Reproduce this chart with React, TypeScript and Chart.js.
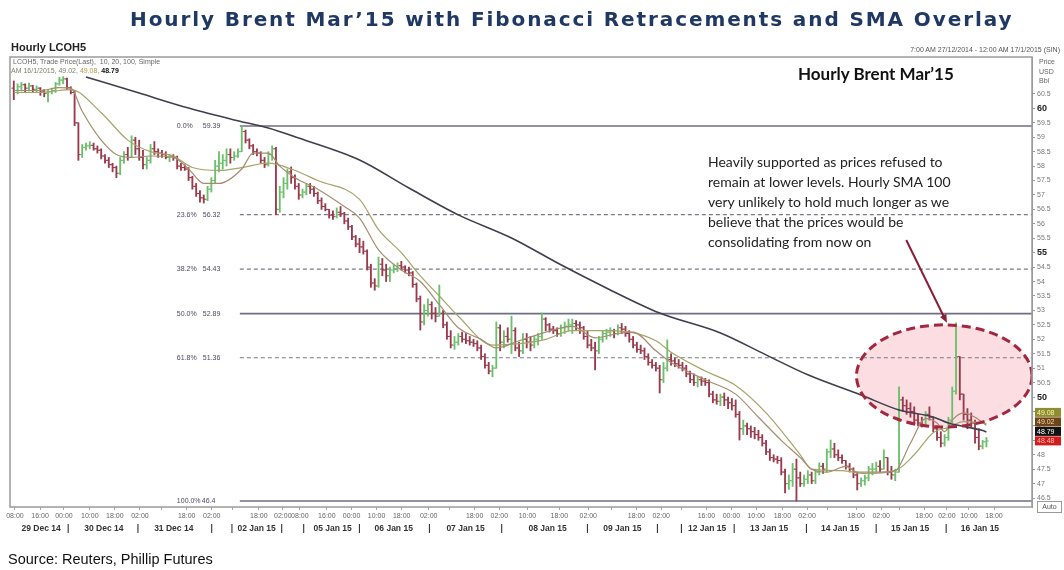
import React, { useEffect, useRef } from 'react';
import { Chart, registerables } from 'chart.js';

Chart.register(...registerables);

// ---------- DATA (hourly bars, index = bar slot) ----------
const FIRST_OPEN = 60.7;
const BAR_HIGH = [
  60.95, 60.85, 60.9, 60.85, 60.88, 60.8, 60.78, 60.72, 60.65, 60.65,
  60.7, 60.9, 61.08, 61.1, 61.05, 60.75, 60.6, 59.5, 58.75, 58.8,
  58.85, 58.8, 58.7, 58.6, 58.4, 58.3, 58.1, 58.0, 58.3, 58.5,
  58.65, 59.05, 59.0, 58.9, 58.55, 58.3, 58.75, 58.85, 58.6, 58.55,
  58.5, 58.4, 58.4, 58.35, 58.1, 58.05, 57.95, 57.65, 57.4, 57.15,
  57.0, 57.3, 57.6, 58.2, 58.5, 58.4, 58.6, 58.6, 58.5, 58.6,
  59.39, 59.25, 58.95, 58.75, 58.6, 58.5, 58.3, 58.5, 58.7, 58.65,
  57.3, 57.6, 57.9, 57.97, 57.7, 57.4, 57.2, 57.4, 57.4, 57.3,
  57.1, 56.9, 56.7, 56.5, 56.45, 56.55, 56.6, 56.4, 56.2, 55.95,
  55.6, 55.5, 55.4, 55.1, 54.6, 54.1, 54.85, 54.8, 54.6, 54.5,
  54.6, 54.65, 54.7, 54.55, 54.5, 54.35, 53.95, 53.5, 53.2, 53.4,
  53.3, 53.1, 53.88, 53.0, 52.6, 52.3, 52.1, 52.2, 52.25, 52.2,
  52.1, 52.0, 51.95, 51.8, 51.5, 51.2, 51.1, 52.6, 52.5, 52.3,
  52.4, 52.8, 52.4, 51.9, 52.2, 52.2, 52.1, 52.1, 52.2, 52.91,
  52.75, 52.55, 52.45, 52.4, 52.5, 52.6, 52.7, 52.7, 52.65, 52.6,
  52.45, 52.3, 52.0, 51.9, 52.1, 52.3, 52.35, 52.4, 52.35, 52.5,
  52.55, 52.45, 52.3, 52.1, 51.9, 51.8, 51.7, 51.5, 51.3, 51.2,
  51.1, 51.2, 51.98, 51.5, 51.35, 51.3, 51.2, 51.1, 50.9, 50.8,
  50.7, 50.7, 50.65, 50.6, 50.2, 50.1, 50.1, 50.14, 50.0, 49.95,
  49.9, 49.5, 49.2, 49.1, 49.0, 48.95, 48.85, 48.7, 48.5, 48.2,
  48.0, 47.95, 47.9, 47.5, 47.3, 47.7, 47.85, 47.4, 47.3, 47.45,
  47.4, 47.5, 47.72, 47.7, 48.2, 48.51, 48.4, 48.17, 48.0, 47.8,
  47.7, 47.55, 47.4, 47.2, 47.3, 47.6, 47.7, 47.75, 47.8, 48.17,
  47.9, 47.6, 47.5, 50.35, 50.0, 49.9, 49.8, 49.66, 49.4, 49.3,
  49.5, 49.66, 49.3, 49.0, 48.8, 48.7, 49.3, 50.35, 52.57, 51.4,
  50.1, 49.6, 49.45, 49.2, 48.9, 48.5, 48.6,
];
const BAR_LOW = [
  60.3, 60.5, 60.6, 60.55, 60.6, 60.55, 60.55, 60.45, 60.4, 60.22,
  60.5, 60.55, 60.8, 60.85, 60.65, 60.5, 59.4, 58.2, 58.3, 58.55,
  58.6, 58.55, 58.45, 58.25, 58.1, 57.95, 57.8, 57.6, 57.7, 58.1,
  58.2, 58.3, 58.4, 58.2, 57.9, 57.9, 58.1, 58.4, 58.3, 58.3,
  58.25, 58.15, 58.2, 57.9, 57.85, 57.85, 57.5, 57.2, 56.95, 56.75,
  56.72, 56.8, 57.1, 57.4, 57.8, 57.9, 58.0, 58.1, 58.2, 58.3,
  58.5, 58.8, 58.6, 58.4, 58.35, 58.1, 57.95, 58.0, 58.2, 56.32,
  56.4, 56.9, 57.2, 57.4, 57.2, 56.85, 56.9, 57.0, 57.05, 56.95,
  56.7, 56.5, 56.45, 56.2, 56.15, 56.2, 56.25, 56.0, 55.8, 55.45,
  55.2, 55.0, 54.95, 54.4, 53.8, 53.7, 53.8, 54.2, 54.0, 54.0,
  54.3, 54.35, 54.4, 54.3, 54.2, 53.8, 53.3, 52.32, 52.5, 52.8,
  52.7, 52.6, 52.8, 52.4, 52.0, 51.7, 51.65, 51.8, 51.9, 51.85,
  51.8, 51.75, 51.6, 51.3, 51.0, 50.8, 50.7, 51.0, 51.6, 51.7,
  51.9, 51.5, 51.6, 51.4, 51.5, 51.7, 51.6, 51.7, 51.8, 52.0,
  52.3, 52.25, 52.2, 52.1, 52.1, 52.2, 52.3, 52.2, 52.3, 52.2,
  52.0, 51.7, 51.6, 50.94, 51.5, 51.9, 52.0, 52.1, 52.05, 52.15,
  52.2, 52.1, 51.9, 51.7, 51.55, 51.5, 51.3, 51.1, 51.0, 50.9,
  50.14, 50.5, 50.9, 51.1, 51.05, 51.0, 50.9, 50.7, 50.5, 50.4,
  50.35, 50.4, 50.4, 50.0, 49.8, 49.75, 49.7, 49.7, 49.6, 49.55,
  49.3, 48.51, 48.7, 48.7, 48.6, 48.55, 48.5, 48.3, 48.0, 47.8,
  47.75, 47.7, 47.3, 46.68, 46.8, 46.9, 46.4, 46.9, 46.9, 47.0,
  47.0, 47.0, 47.3, 47.35, 47.4, 47.9, 47.9, 47.8, 47.7, 47.5,
  47.4, 47.2, 46.78, 46.9, 46.95, 47.1, 47.3, 47.4, 47.4, 47.5,
  47.3, 47.15, 47.1, 47.4, 49.5, 49.4, 49.3, 49.1, 49.0, 48.96,
  49.0, 49.2, 48.8, 48.5, 48.27, 48.3, 48.5, 49.1, 50.1, 49.9,
  49.2, 48.9, 48.96, 48.4, 48.17, 48.2, 48.27,
];
const BAR_CLOSE = [
  60.55, 60.75, 60.82, 60.7, 60.78, 60.66, 60.7, 60.6, 60.52, 60.58,
  60.62, 60.85, 60.98, 61.02, 60.72, 60.55, 59.5, 58.4, 58.65, 58.7,
  58.72, 58.6, 58.55, 58.35, 58.2, 58.05, 57.95, 57.75, 58.2, 58.4,
  58.3, 58.9, 58.6, 58.3, 58.05, 58.2, 58.6, 58.5, 58.45, 58.4,
  58.3, 58.35, 58.3, 58.0, 57.95, 57.9, 57.6, 57.3, 57.05, 56.9,
  56.85, 57.2, 57.5, 58.0, 58.1, 58.2, 58.4, 58.3, 58.35, 58.5,
  59.2, 58.9, 58.7, 58.5, 58.45, 58.2, 58.05, 58.4, 58.6, 56.5,
  57.1, 57.4, 57.8, 57.6, 57.3, 57.0, 57.1, 57.3, 57.2, 57.05,
  56.8, 56.6, 56.5, 56.3, 56.25, 56.4, 56.35, 56.1, 55.9, 55.55,
  55.3, 55.2, 55.05, 54.5, 53.95, 53.85, 54.6, 54.4, 54.2, 54.4,
  54.45, 54.55, 54.5, 54.4, 54.3, 53.9, 53.4, 52.6, 53.0, 53.2,
  52.9, 52.8, 52.9, 52.5, 52.1, 51.8, 51.9, 52.1, 52.0, 51.95,
  51.9, 51.85, 51.7, 51.4, 51.1, 50.9, 51.0, 52.4, 51.9, 52.1,
  52.0, 52.3, 51.7, 51.6, 52.0, 51.9, 51.8, 52.0, 52.1, 52.7,
  52.5, 52.35, 52.3, 52.2, 52.4, 52.45, 52.5, 52.55, 52.5, 52.4,
  52.1, 51.8, 51.7, 51.6, 52.0, 52.2, 52.25, 52.3, 52.2, 52.4,
  52.35, 52.2, 52.0, 51.8, 51.65, 51.6, 51.4, 51.2, 51.1, 51.0,
  50.6, 51.0, 51.3, 51.25, 51.15, 51.1, 51.0, 50.8, 50.6, 50.5,
  50.6, 50.55, 50.5, 50.1, 49.9, 49.85, 50.0, 49.9, 49.8, 49.7,
  49.4, 48.9, 49.0, 48.9, 48.8, 48.7, 48.6, 48.4, 48.1, 47.9,
  47.85, 47.8, 47.4, 47.0, 47.1, 47.5, 47.2, 47.0, 47.15, 47.3,
  47.1, 47.4, 47.6, 47.5, 48.1, 48.2, 48.0, 47.9, 47.8, 47.6,
  47.5, 47.3, 47.0, 47.1, 47.2, 47.5, 47.5, 47.6, 47.5, 47.9,
  47.4, 47.3, 47.4, 49.9, 49.7, 49.6, 49.5, 49.2, 49.1, 49.05,
  49.4, 49.3, 48.9, 48.6, 48.4, 48.6, 49.2, 50.2, 51.4, 50.1,
  49.4, 49.2, 49.1, 48.6, 48.3, 48.45, 48.48,
];

// Moving averages: [bar slot, price]
const SMA10: [number, number][] = [
  [0, 60.62], [7, 60.62], [12, 60.72], [15, 60.7], [18, 59.9], [23, 58.9], [27, 58.4],
  [31, 58.3], [36, 58.35], [42, 58.3], [46, 57.9], [50, 57.4], [54, 57.4], [60, 57.9],
  [63, 58.45], [67, 58.45], [70, 58.0], [74, 57.6], [80, 57.2], [87, 56.6], [91, 56.2],
  [96, 55.1], [102, 54.4], [107, 54.0], [112, 53.2], [117, 52.4], [123, 52.0], [127, 51.7],
  [133, 51.95], [140, 52.25], [147, 52.45], [153, 52.05], [159, 52.2], [163, 52.25],
  [169, 51.6], [173, 51.2], [182, 50.6], [190, 50.1], [196, 49.3], [202, 48.5], [207, 47.9],
  [210, 47.5], [214, 47.4], [219, 47.6], [222, 47.4], [228, 47.4], [232, 47.45], [236, 48.4],
  [240, 49.25], [243, 49.1], [245, 48.8], [247, 49.2], [250, 49.45], [253, 49.3], [256, 49.02],
];
const SMA20: [number, number][] = [
  [0, 60.55], [7, 60.55], [12, 60.62], [15, 60.65], [23, 59.85], [30, 58.9], [36, 58.5],
  [42, 58.35], [47, 57.95], [54, 57.85], [60, 57.95], [67, 58.1], [73, 57.9], [80, 57.5],
  [91, 56.85], [96, 55.8], [102, 55.0], [107, 54.2], [112, 53.5], [117, 52.8], [126, 51.8],
  [133, 51.85], [140, 52.0], [147, 52.3], [154, 52.3], [162, 52.25], [169, 51.95], [173, 51.55],
  [182, 50.9], [190, 50.4], [198, 49.45], [207, 48.0], [210, 47.5], [218, 47.45], [224, 47.35],
  [232, 47.45], [237, 48.0], [242, 48.76], [246, 48.95], [250, 49.15], [255, 49.1], [256, 49.08],
];
const SMA100: [number, number][] = [
  [19, 61.09], [33, 60.53], [46, 60.01], [58, 59.6], [67, 59.32], [75, 58.97], [91, 58.21],
  [104, 57.24], [117, 56.31], [131, 55.51], [144, 54.58], [157, 53.71], [170, 52.91],
  [186, 52.22], [198, 51.46], [209, 50.77], [223, 50.07], [233, 49.55], [242, 49.31],
  [246, 49.1], [255, 48.84], [256, 48.79],
];
const SMA_LAST = { sma10: 49.02, sma20: 49.08, sma100: 48.79 };

// Fibonacci retracement levels
const FIB_PCT = ['0.0%', '23.6%', '38.2%', '50.0%', '61.8%', '100.0%'];
const FIB_LEVEL = [59.39, 56.32, 54.43, 52.89, 51.36, 46.4];
const FIB_DASHED = [false, true, true, false, true, false];
const FIB_START = 59.5;

// Axes
const X_MIN = -1;
const X_MAX = 268;
const Y_MIN = 46.19;
const Y_MAX = 61.78;
const Y_TICKS = [
  46.5, 47, 47.5, 48, 48.5, 49, 49.5, 50, 50.5, 51, 51.5, 52, 52.5, 53, 53.5,
  54, 54.5, 55, 55.5, 56, 56.5, 57, 57.5, 58, 58.5, 59, 59.5, 60, 60.5,
];
const TIME_TICK_POS = [
  0.3, 6.9, 13.2, 20.0, 26.6, 33.2, 39.0, 45.5, 52.1, 57.6, 64.5, 70.8, 75.3, 82.4,
  88.9, 95.5, 102.1, 109.2, 114.7, 121.3, 127.8, 135.2, 143.6, 151.2, 157.3, 163.9,
  170.4, 175.7, 182.3, 188.9, 195.4, 202.3, 208.8, 214.1, 221.7, 228.3, 233.0, 239.6,
  245.6, 251.4, 258.0,
];
const TIME_TICK_LABEL = [
  '08:00', '16:00', '00:00', '10:00', '18:00', '02:00', '', '18:00', '02:00', '', '18:00',
  '02:00', '08:00', '16:00', '00:00', '10:00', '18:00', '02:00', '', '18:00', '02:00',
  '10:00', '18:00', '02:00', '', '18:00', '02:00', '', '16:00', '00:00', '10:00', '18:00',
  '02:00', '', '18:00', '02:00', '', '18:00', '02:00', '10:00', '18:00',
];
const DATE_TICK_POS = [
  7.2, 14.3, 23.7, 32.7, 42.1, 52.1, 57.4, 63.9, 70.5, 76.3, 83.9, 91.0, 100.0, 109.4,
  118.9, 128.4, 140.5, 151.0, 160.2, 169.4, 175.7, 182.5, 189.6, 198.8, 208.6, 217.5,
  227.0, 235.9, 245.4, 254.3,
];
const DATE_TICK_LABEL = [
  '29 Dec 14', '|', '30 Dec 14', '|', '31 Dec 14', '|', '|', '02 Jan 15', '|', '|',
  '05 Jan 15', '|', '06 Jan 15', '|', '07 Jan 15', '|', '08 Jan 15', '|', '09 Jan 15',
  '|', '|', '12 Jan 15', '|', '13 Jan 15', '|', '14 Jan 15', '|', '15 Jan 15', '|', '16 Jan 15',
];

// Annotation anchors (data units)
const ELLIPSE = { x: 244.9, y: 50.73, rx: 23.1, ry: 1.77 };
const ARROW = { x0: 234.9, y0: 55.44, x1: 245.6, y1: 52.57 };

const ANNOTATION_LINES = [
  'Heavily supported as prices refused to',
  'remain at lower levels. Hourly SMA 100',
  'very unlikely to hold much longer as we',
  'believe that the prices would be',
  'consolidating from now on',
];

const UP = '#6cc06c';
const DOWN = '#9a3a4c';
const SANS = '"Liberation Sans", Arial, sans-serif';

const overlayPlugin = {
  id: 'overlay',
  beforeDatasetsDraw(chart: any) {
    const { ctx, chartArea: a, scales } = chart;
    const x = scales.x;
    const y = scales.y;
    ctx.save();
    ctx.beginPath();
    ctx.rect(a.left, a.top, a.right - a.left, a.bottom - a.top);
    ctx.clip();
    const cx = x.getPixelForValue(ELLIPSE.x);
    const cy = y.getPixelForValue(ELLIPSE.y);
    const rx = Math.abs(x.getPixelForValue(ELLIPSE.x + ELLIPSE.rx) - cx);
    const ry = Math.abs(y.getPixelForValue(ELLIPSE.y + ELLIPSE.ry) - cy);
    ctx.beginPath();
    ctx.ellipse(cx, cy, rx, ry, 0, 0, Math.PI * 2);
    ctx.fillStyle = 'rgba(246, 175, 185, 0.42)';
    ctx.fill();
    ctx.restore();
  },
  afterDatasetsDraw(chart: any) {
    const { ctx, chartArea: a, scales } = chart;
    const x = scales.x;
    const y = scales.y;
    ctx.save();
    ctx.beginPath();
    ctx.rect(a.left, a.top, a.right - a.left, a.bottom - a.top);
    ctx.clip();
    const cx = x.getPixelForValue(ELLIPSE.x);
    const cy = y.getPixelForValue(ELLIPSE.y);
    const rx = Math.abs(x.getPixelForValue(ELLIPSE.x + ELLIPSE.rx) - cx);
    const ry = Math.abs(y.getPixelForValue(ELLIPSE.y + ELLIPSE.ry) - cy);
    ctx.beginPath();
    ctx.ellipse(cx, cy, rx, ry, 0, 0, Math.PI * 2);
    ctx.setLineDash([9, 5]);
    ctx.lineWidth = 3;
    ctx.strokeStyle = '#a3283f';
    ctx.stroke();
    ctx.setLineDash([]);
    const ax0 = x.getPixelForValue(ARROW.x0);
    const ay0 = y.getPixelForValue(ARROW.y0);
    const ax1 = x.getPixelForValue(ARROW.x1);
    const ay1 = y.getPixelForValue(ARROW.y1);
    const ang = Math.atan2(ay1 - ay0, ax1 - ax0);
    ctx.strokeStyle = '#8a1e35';
    ctx.fillStyle = '#8a1e35';
    ctx.lineWidth = 2;
    ctx.beginPath();
    ctx.moveTo(ax0, ay0);
    ctx.lineTo(ax1 - 6 * Math.cos(ang), ay1 - 6 * Math.sin(ang));
    ctx.stroke();
    ctx.beginPath();
    ctx.moveTo(ax1, ay1);
    ctx.lineTo(ax1 - 9 * Math.cos(ang - 0.4), ay1 - 9 * Math.sin(ang - 0.4));
    ctx.lineTo(ax1 - 9 * Math.cos(ang + 0.4), ay1 - 9 * Math.sin(ang + 0.4));
    ctx.closePath();
    ctx.fill();
    ctx.restore();

    ctx.save();
    const sx = x.getPixelForValue(FIB_START);
    ctx.font = `7px ${SANS}`;
    ctx.fillStyle = '#4a4a62';
    ctx.textBaseline = 'middle';
    FIB_LEVEL.forEach((lv, i) => {
      const py = y.getPixelForValue(lv);
      ctx.fillText(FIB_PCT[i], sx - 63, py);
      ctx.fillText(String(lv), i === 5 ? sx - 38 : sx - 37, py);
    });
    ctx.restore();
  },
  afterDraw(chart: any) {
    const { ctx, chartArea: a, scales } = chart;
    const y = scales.y;
    ctx.save();
    ctx.strokeStyle = '#9a9a9a';
    ctx.lineWidth = 1.5;
    ctx.strokeRect(a.left, a.top, a.right - a.left, a.bottom - a.top);
    const tags = [
      { v: SMA_LAST.sma20, bg: '#8f8e2e', fg: '#f6f3c4' },
      { v: SMA_LAST.sma10, bg: '#6e4418', fg: '#f6dcae' },
      { v: SMA_LAST.sma100, bg: '#121212', fg: '#ffffff' },
      { v: BAR_CLOSE[BAR_CLOSE.length - 1], bg: '#d21c1c', fg: '#ffb8b8' },
    ];
    const ys = tags.map((t) => y.getPixelForValue(t.v));
    for (let i = ys.length - 2; i >= 0; i--) ys[i] = Math.min(ys[i], ys[i + 1] - 9.5);
    ctx.font = `7px ${SANS}`;
    ctx.textBaseline = 'middle';
    tags.forEach((t, i) => {
      ctx.fillStyle = t.bg;
      ctx.fillRect(a.right + 3, ys[i] - 4.5, 26, 9);
      ctx.fillStyle = t.fg;
      ctx.fillText(t.v.toFixed(2), a.right + 5, ys[i] + 0.5);
    });
    ctx.restore();
  },
};

export default function App() {
  const canvasRef = useRef<HTMLCanvasElement | null>(null);

  useEffect(() => {
    const canvas = canvasRef.current;
    if (!canvas) return;

    const opens = BAR_CLOSE.map((_, i) => (i === 0 ? FIRST_OPEN : BAR_CLOSE[i - 1]));
    const colors = BAR_CLOSE.map((c, i) => (c >= opens[i] ? UP : DOWN));

    const fibSets = FIB_LEVEL.map((lv, i) => ({
      type: 'line',
      data: [
        { x: FIB_START, y: lv },
        { x: X_MAX, y: lv },
      ],
      borderColor: FIB_DASHED[i] ? '#7a7a86' : '#6e6e84',
      borderWidth: FIB_DASHED[i] ? 1.2 : 1.6,
      borderDash: FIB_DASHED[i] ? [4, 3] : [],
      pointRadius: 0,
      order: 20,
    }));

    const chart = new Chart(canvas, {
      type: 'line',
      data: {
        datasets: [
          ...fibSets,
          {
            type: 'bar',
            data: BAR_HIGH.map((h, i) => ({ x: i, y: [BAR_LOW[i], h] })),
            backgroundColor: colors,
            borderWidth: 0,
            barThickness: 1.2,
            grouped: false,
            order: 10,
          },
          {
            type: 'scatter',
            data: opens.map((o, i) => ({ x: i - 0.3, y: o })),
            pointStyle: 'line',
            pointRadius: 1.2,
            pointBorderWidth: 1,
            pointBorderColor: colors,
            order: 9,
          },
          {
            type: 'scatter',
            data: BAR_CLOSE.map((c, i) => ({ x: i + 0.3, y: c })),
            pointStyle: 'line',
            pointRadius: 1.2,
            pointBorderWidth: 1,
            pointBorderColor: colors,
            order: 9,
          },
          {
            type: 'line',
            data: SMA20.map(([x, y]) => ({ x, y })),
            borderColor: '#a5a46a',
            borderWidth: 1.2,
            pointRadius: 0,
            cubicInterpolationMode: 'monotone',
            order: 3,
          },
          {
            type: 'line',
            data: SMA10.map(([x, y]) => ({ x, y })),
            borderColor: '#a78b6e',
            borderWidth: 1.2,
            pointRadius: 0,
            cubicInterpolationMode: 'monotone',
            order: 2,
          },
          {
            type: 'line',
            data: SMA100.map(([x, y]) => ({ x, y })),
            borderColor: '#3e3e4c',
            borderWidth: 1.6,
            pointRadius: 0,
            cubicInterpolationMode: 'monotone',
            order: 1,
          },
        ] as any,
      },
      options: {
        animation: false,
        responsive: false,
        devicePixelRatio: 1,
        events: [],
        layout: { padding: { top: 57, left: 10, right: 0, bottom: 35 } },
        plugins: { legend: { display: false }, tooltip: { enabled: false }, title: { display: false } },
        scales: {
          x: {
            type: 'linear',
            position: 'bottom',
            min: X_MIN,
            max: X_MAX,
            offset: false,
            weight: 0,
            grid: { drawOnChartArea: false, drawTicks: true, tickLength: 3, color: '#a8a8a8', offset: false },
            border: { display: false },
            afterBuildTicks: (s: any) => {
              s.ticks = TIME_TICK_POS.map((v) => ({ value: v }));
            },
            afterFit: (s: any) => {
              s.height = 14;
            },
            ticks: {
              autoSkip: false,
              maxRotation: 0,
              minRotation: 0,
              padding: 2,
              font: { family: SANS, size: 7 },
              color: '#666',
              callback: (_v: any, i: number) => TIME_TICK_LABEL[i],
            },
          },
          x2: {
            type: 'linear',
            position: 'bottom',
            min: X_MIN,
            max: X_MAX,
            offset: false,
            weight: 1,
            grid: { display: false, drawTicks: false, drawOnChartArea: false },
            border: { display: false },
            afterBuildTicks: (s: any) => {
              s.ticks = DATE_TICK_POS.map((v) => ({ value: v }));
            },
            afterFit: (s: any) => {
              s.height = 14;
            },
            ticks: {
              autoSkip: false,
              maxRotation: 0,
              minRotation: 0,
              padding: 3,
              font: { family: SANS, size: 8.5, weight: 'bold' },
              color: '#333',
              callback: (_v: any, i: number) => DATE_TICK_LABEL[i],
            },
          },
          y: {
            type: 'linear',
            position: 'right',
            min: Y_MIN,
            max: Y_MAX,
            grid: { drawOnChartArea: false, drawTicks: true, tickLength: 3, color: '#999' },
            border: { display: true, color: '#999' },
            afterBuildTicks: (s: any) => {
              s.ticks = Y_TICKS.map((v) => ({ value: v }));
            },
            afterFit: (s: any) => {
              s.width = 32;
            },
            ticks: {
              autoSkip: false,
              padding: 2,
              font: (c: any) =>
                c.tick && c.tick.value % 5 === 0
                  ? { family: SANS, size: 9, weight: 'bold' }
                  : { family: SANS, size: 7 },
              color: (c: any) => (c.tick && c.tick.value % 5 === 0 ? '#222' : '#777'),
              callback: (v: any) => String(v),
            },
          },
        },
      } as any,
      plugins: [overlayPlugin],
    });

    return () => chart.destroy();
  }, []);

  const abs = (s: React.CSSProperties): React.CSSProperties => ({ position: 'absolute', whiteSpace: 'nowrap', margin: 0, ...s });

  return (
    <div style={{ position: 'absolute', left: 0, top: 0, width: 1064, height: 570, background: '#fff', overflow: 'hidden' }}>
      <canvas ref={canvasRef} width={1064} height={570} style={{ display: 'block', width: 1064, height: 570 }} />
      <div style={abs({ left: 130, top: 7, font: `bold 20px "DejaVu Sans", sans-serif`, letterSpacing: '1.9px', color: '#1f3864' })}>
        Hourly Brent Mar’15 with Fibonacci Retracements and SMA Overlay
      </div>
      <div style={abs({ left: 11, top: 41, font: `bold 11px ${SANS}`, color: '#222' })}>Hourly LCOH5</div>
      <div style={abs({ right: 4, top: 46, font: `7px ${SANS}`, color: '#555' })}>
        7:00 AM 27/12/2014 - 12:00 AM 17/1/2015 (SIN)
      </div>
      <div style={abs({ left: 13, top: 58, font: `7px ${SANS}`, color: '#666' })}>
        LCOH5, Trade Price(Last),&nbsp; 10, 20, 100, Simple
      </div>
      <div style={abs({ left: 11, top: 67, font: `7px ${SANS}`, color: '#7f806a' })}>
        AM 16/1/2015, 49.02, <span style={{ color: '#b09a45' }}>49.08,</span>{' '}
        <b style={{ color: '#111' }}>48.79</b>
      </div>
      <div style={abs({ left: 1039, top: 57, font: `7px ${SANS}`, color: '#666', lineHeight: '9.5px' })}>
        Price
        <br />
        USD
        <br />
        Bbl
      </div>
      <div style={abs({ left: 798, top: 63, font: `bold 17px Lato, sans-serif`, color: '#111' })}>Hourly Brent Mar’15</div>
      <div style={abs({ left: 708, top: 152, font: `14px Lato, sans-serif`, color: '#222', lineHeight: '20px' })}>
        {ANNOTATION_LINES.map((l, i) => (
          <div key={i}>{l}</div>
        ))}
      </div>
      <div
        style={abs({
          left: 1037,
          top: 501,
          width: 23,
          height: 10,
          border: '1px solid #999',
          font: `7px ${SANS}`,
          color: '#555',
          textAlign: 'center',
          lineHeight: '10px',
        })}
      >
        Auto
      </div>
      <div style={abs({ left: 8, top: 551, font: `14.5px ${SANS}`, color: '#111' })}>Source: Reuters, Phillip Futures</div>
    </div>
  );
}
